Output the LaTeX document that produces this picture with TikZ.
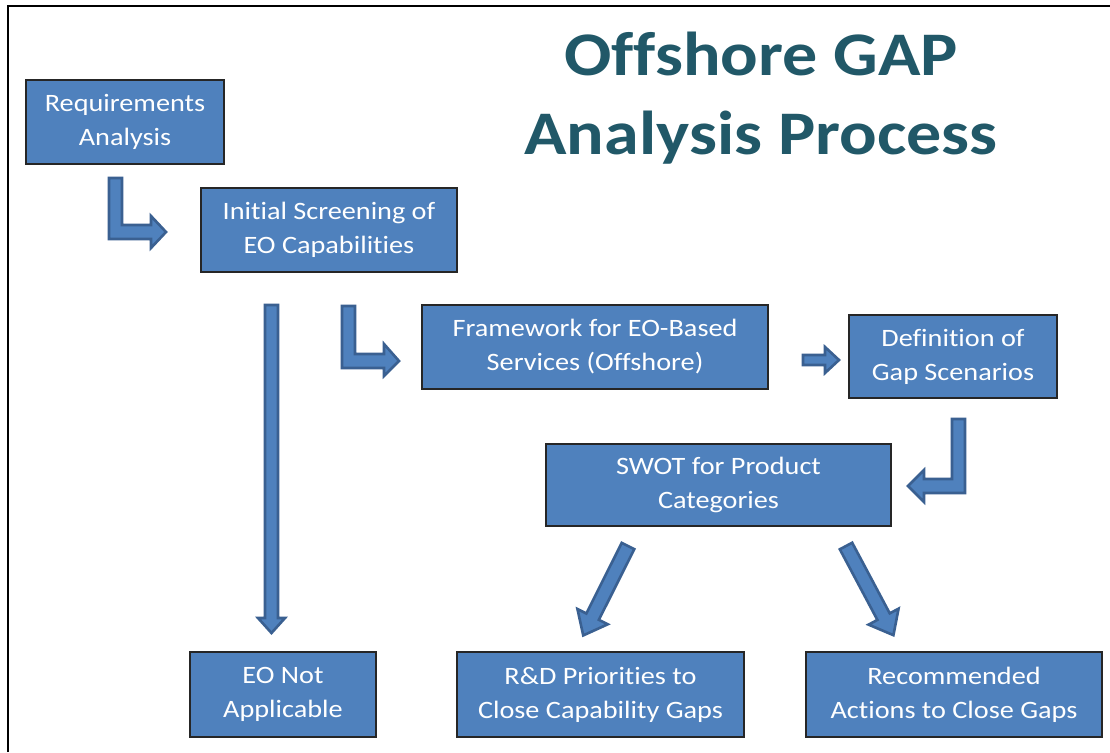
\documentclass[tikz,border=0pt]{standalone}
\usepackage{fontspec}
\setmainfont{Carlito}[FakeStretch=1.13,Ligatures=NoCommon]
\begin{document}
\begin{tikzpicture}[x=1pt,y=-1pt,
  box/.style={draw=black!85,line width=1.2pt,fill=boxblue,text=white,
    align=center,inner sep=0pt,
    font=\fontsize{25}{34}\selectfont},
  blk/.style={draw=arrowedge,fill=boxblue,line width=2.6pt,line join=miter}]
\definecolor{boxblue}{HTML}{4F81BD}
\definecolor{arrowedge}{HTML}{3A6091}
\definecolor{titlecol}{HTML}{215868}
\useasboundingbox (0,0) rectangle (1110,752);
\fill[white] (0,0) rectangle (1110,752);
% frame (top and left only)
\draw[line width=2pt,black] (8,752) -- (8,6.5) -- (1110,6.5);
% title
\node[text=titlecol,align=center,font=\fontsize{62}{79}\bfseries\selectfont] (title) at (761,98) {Offshore GAP\\Analysis Process};
% boxes
\node[box,minimum width=198,minimum height=84] (req) at (125,122) {Requirements\\Analysis};
\node[box,minimum width=256,minimum height=84] (init) at (329,230) {Initial Screening of\\EO Capabilities};
\node[box,minimum width=346,minimum height=84] (frame) at (595,347) {Framework for EO-Based\\Services (Offshore)};
\node[box,minimum width=208,minimum height=83] (def) at (953,356.5) {Definition of\\Gap Scenarios};
\node[box,minimum width=345,minimum height=82] (swot) at (718.5,485) {SWOT for Product\\Categories};
\node[box,minimum width=186,minimum height=85] (eona) at (283,694.5) {EO Not\\Applicable};
\node[box,minimum width=287,minimum height=85] (rd) at (600.5,694.5) {R\&D Priorities to\\Close Capability Gaps};
\node[box,minimum width=296,minimum height=85] (rec) at (954,694.5) {Recommended\\Actions to Close Gaps};
% block arrows
% req -> init (bent)
\draw[blk] (109,178) -- (122,178) -- (122,225) -- (151,225) -- (151,216) -- (166,232) -- (151,248) -- (151,239) -- (109,239) -- cycle;
% init -> frame (bent)
\draw[blk] (342,306) -- (355,306) -- (355,354) -- (384,354) -- (384,344) -- (399,361) -- (384,376) -- (384,368) -- (342,368) -- cycle;
% frame -> def
\draw[blk] (803,355) -- (825,355) -- (825,347) -- (839,360) -- (825,373) -- (825,365) -- (803,365) -- cycle;
% def -> swot (bent)
\draw[blk] (965,419) -- (952,419) -- (952,479) -- (924,479) -- (924,470) -- (908,486) -- (924,502) -- (924,493) -- (965,493) -- cycle;
% init -> eona
\draw[blk] (265,305) -- (278,305) -- (278,618) -- (285,618) -- (271.5,633) -- (258,618) -- (265,618) -- cycle;
% swot -> rd
\begin{scope}[shift={(628,546)},rotate=-116.6]
\draw[blk] (0,-7) -- (79,-7) -- (79,-17) -- (100,0) -- (79,17) -- (79,7) -- (0,7) -- cycle;
\end{scope}
% swot -> rec
\begin{scope}[shift={(846,546)},rotate=-62]
\draw[blk] (0,-7) -- (80,-7) -- (80,-17) -- (101,0) -- (80,17) -- (80,7) -- (0,7) -- cycle;
\end{scope}
\end{tikzpicture}
\end{document}
